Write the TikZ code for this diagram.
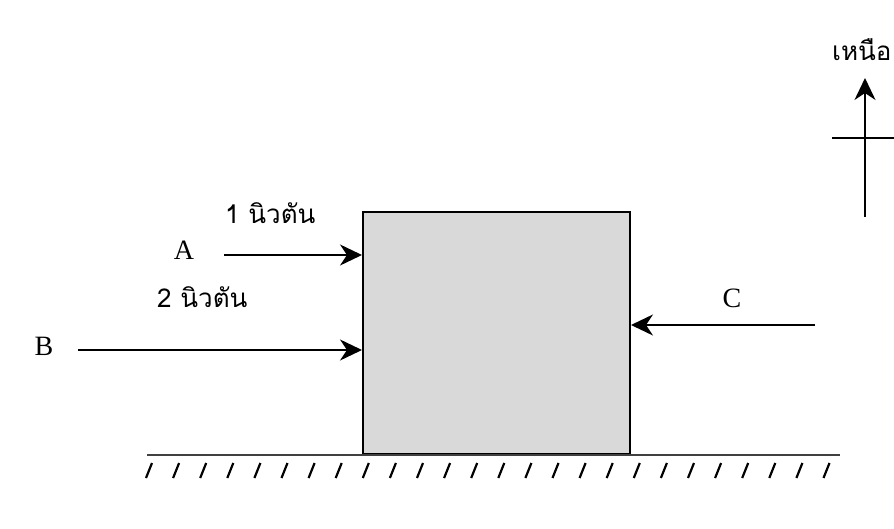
\documentclass[tikz,border=0pt]{standalone}
\usepackage{fontspec}
\setmainfont{Liberation Serif}
\newfontfamily\thaifont[Script=Thai]{Loma}
\usetikzlibrary{arrows.meta}
\begin{document}
\begin{tikzpicture}[x=1pt,y=-1pt,
  force/.style={line width=2.2pt,-{Stealth[length=22pt,width=21pt,inset=7pt]}},
  lbl/.style={font=\fontsize{28}{32}\selectfont,inner sep=0pt},
  thai/.style={font=\thaifont\fontsize{26}{30}\selectfont,inner sep=0pt,anchor=west},
  hatch/.style={line width=2.2pt}]
\useasboundingbox[fill=white] (0,0) rectangle (894,529);
% block
\node[draw=black,line width=2pt,fill=black!15,minimum width=267pt,minimum height=242pt,inner sep=0pt,anchor=north west] (blk) at (362,211) {};
% ground
\coordinate (g1) at (147,455);
\coordinate (g2) at (840,455);
\draw[line width=2.4pt,black!75] (g1) -- (g2);
\foreach \i in {0,...,25}{
  \draw[hatch] ({146+\i*27.1},478) -- ++(6,-15);
}
% forces
\coordinate (a0) at (224,255);
\coordinate (a1) at (blk.west |- a0);
\draw[force] (a0) -- (a1);
\coordinate (b0) at (78,350);
\coordinate (b1) at (blk.west |- b0);
\draw[force] (b0) -- (b1);
\coordinate (c0) at (815,325);
\coordinate (c1) at (blk.east |- c0);
\draw[force] (c0) -- (c1);
\node[lbl] (A) at (184,250) {A};
\node[lbl] (B) at (44,346) {B};
\node[lbl] (C) at (732,298) {C};
\node[thai] (fa) at (225,213) {1 นิวตัน};
\node[thai] (fb) at (157,297) {2 นิวตัน};
% north
\coordinate (n0) at (865,217);
\coordinate (n1) at (865,78);
\draw[force] (n0) -- (n1);
\coordinate (h0) at (832,138);
\coordinate (h1) at (894,138);
\draw[line width=2pt] (h0) -- (h1);
\node[thai] (north) at (832,50) {เหนือ};
\end{tikzpicture}
\end{document}
